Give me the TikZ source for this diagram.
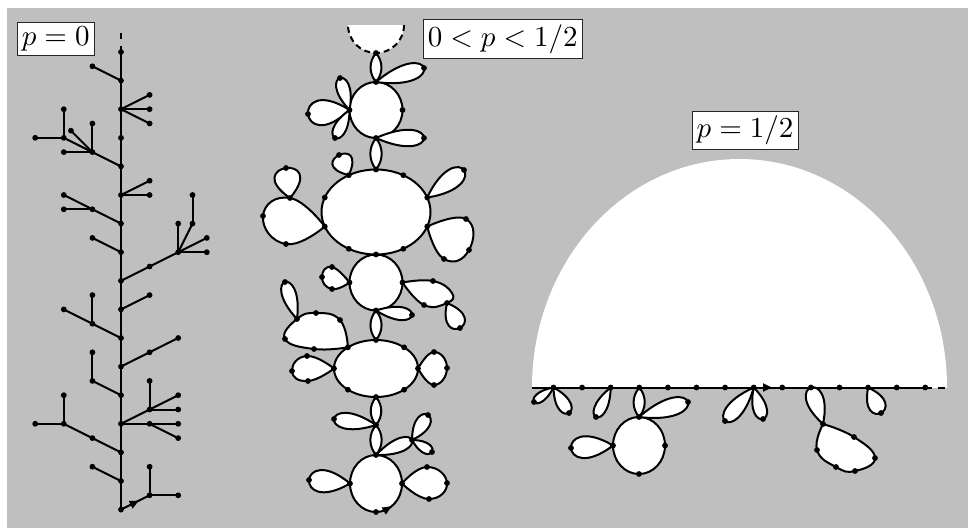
\documentclass[tikz,border=0pt]{standalone}
\usetikzlibrary{calc,decorations.markings,arrows.meta}
\tikzset{
 dot/.style={circle,fill=black,inner sep=0pt,minimum size=5.8pt},
 lp/.style={draw=black,line width=2pt,fill=white,line join=round,line cap=round},
 tr/.style={line width=2pt,line cap=round},
 lbl/.style={draw=black!85,fill=white,line width=0.8pt,inner sep=1.6pt,scale=2.9},
 midarrow/.style={postaction=decorate,decoration={markings,mark=at position #1 with {\arrow{Triangle[length=9pt,width=8pt]}}}},
}
\newcommand\tdrop[3]{\pgfmathsetmacro\mytdf{1/(0.75*cos(#1))}%
 \draw[lp] (#2) .. controls ($(#2)!\mytdf!#1:(#3)$) and ($(#2)!\mytdf!-#1:(#3)$) .. (#2);}
\newcommand\lens[3]{\draw[lp] (#2) to[bend left=#1] (#3) to[bend left=#1] (#2);}
\begin{document}
\begin{tikzpicture}[x=1pt,y=-1pt]
\useasboundingbox (0,0) rectangle (968,528);
\fill[white] (0,0) rectangle (968,528);
\fill[lightgray] (7,8) rectangle (968,528);

% ---------- right: p = 1/2 ----------
\begin{scope}
\clip (500,100) rectangle (968,387.5);
\fill[white] (739.5,387.5) ellipse[x radius=207.5,y radius=228.5];
\end{scope}
\foreach \j in {0,...,13} \coordinate (R\j) at ({553.5+28.6*\j},387.5);
\coordinate (Lend) at (532,387.5);
\coordinate (Rend) at (947,387.5);
\coordinate (w1) at (534,402);
\coordinate (w2) at (569,413);
\coordinate (w3) at (596,417);
\coordinate (C4t) at (639,417);
\coordinate (C4b) at (639,474);
\coordinate (C4l) at (613,445.5);
\coordinate (C4r) at (665,445.5);
\coordinate (w4) at (688,402);
\coordinate (w5) at (571,448);
\coordinate (w6) at (725,421);
\coordinate (w7) at (763,419);
\coordinate (w8) at (881,413);
\coordinate (B1a) at (823,424);
\coordinate (B1b) at (854,437);
\coordinate (B1c) at (875,458);
\coordinate (B1d) at (855,471);
\coordinate (B1e) at (836,467);
\coordinate (B1f) at (817,450);

\draw[lp] (639,445.5) ellipse[x radius=26,y radius=28.5];
\draw[lp] plot[smooth,tension=0.8] coordinates {(B1a) (B1b) (B1c) (B1d) (B1e) (B1f) (B1a)};
\tdrop{26}{R0}{w1}
\tdrop{30}{R0}{w2}
\tdrop{25}{R2}{w3}
\lens{40}{R3}{C4t}
\tdrop{24}{C4t}{w4}
\tdrop{34}{C4l}{w5}
\tdrop{25}{R7}{w6}
\tdrop{28}{R7}{w7}
\tdrop{30}{B1a}{R9}
\tdrop{38}{R11}{w8}
\draw[tr,line cap=butt] (Lend) -- (R13);
\draw[tr,line cap=butt,dash pattern=on 7pt off 6pt] (R13) -- (Rend);
\draw[tr,line cap=butt,midarrow=0.64] (R7) -- (R8);

% ---------- center: 0 < p < 1/2 ----------
\coordinate (hd) at (376,53);
\begin{scope}
\clip (340,25) rectangle (412,62);
\draw[lp,line cap=butt,dash pattern=on 6pt off 4pt] (376,25) circle (28);
\end{scope}
\coordinate (C1t) at (376,82);
\coordinate (C1b) at (376,138);
\coordinate (C1l) at (349.5,110);
\coordinate (C1r) at (402.5,110);
\coordinate (p1) at (424,68);
\coordinate (p2) at (340,78);
\coordinate (p3) at (308,114);
\coordinate (p4) at (335,138);
\coordinate (p5) at (424,138);
\coordinate (E1t) at (376,169.5);
\coordinate (E1a) at (403.3,175.2);
\coordinate (E1b) at (348.8,175.2);
\coordinate (E1r1) at (427.2,197.5);
\coordinate (E1l1) at (324.8,197.5);
\coordinate (E1l2) at (324.8,226.5);
\coordinate (E1r2) at (427.2,226.5);
\coordinate (E1c) at (348.8,248.8);
\coordinate (E1d) at (403.3,248.8);
\coordinate (E1bt) at (376,254.5);
\coordinate (q1) at (339,155);
\coordinate (q2) at (290,198);
\coordinate (q3) at (263,216);
\coordinate (q4) at (286,244);
\coordinate (q5) at (286,168);
\coordinate (q6) at (464,170);
\coordinate (q7) at (466,219);
\coordinate (q8) at (469,250);
\coordinate (q9) at (444,259);
\coordinate (C2b) at (376,310.5);
\coordinate (C2l) at (349.5,282.5);
\coordinate (C2r) at (402.5,282.5);
\coordinate (r1) at (332,267);
\coordinate (r2) at (322,277);
\coordinate (r3) at (332,289);
\coordinate (r4) at (433,281);
\coordinate (rx) at (452,293);
\coordinate (r6) at (447,303);
\coordinate (r7) at (424,305);
\coordinate (r8) at (460,328);
\coordinate (r9) at (412,315);
\coordinate (E2t) at (376,340);
\coordinate (E2a) at (404.1,347.3);
\coordinate (E2b) at (347.9,347.3);
\coordinate (E2r) at (418,368.5);
\coordinate (E2l) at (334,368.5);
\coordinate (E2c) at (347.9,389.7);
\coordinate (E2d) at (404.1,389.7);
\coordinate (E2bt) at (376,397);
\coordinate (s1) at (340,320);
\coordinate (s2) at (316,313);
\coordinate (s3) at (297,319);
\coordinate (s4) at (285,339);
\coordinate (s5) at (314,349);
\coordinate (s6) at (285,282);
\coordinate (u1) at (307,356);
\coordinate (u2) at (292,371);
\coordinate (u3) at (308,381);
\coordinate (u4) at (434,352);
\coordinate (u5) at (447,368);
\coordinate (u6) at (434,385);
\coordinate (v1) at (376,425);
\coordinate (v2) at (334,419);
\coordinate (v3) at (412,440);
\coordinate (v4) at (428,415);
\coordinate (v5) at (432,452);
\coordinate (v6) at (309,480);
\coordinate (v7) at (427,467);
\coordinate (v8) at (447,483);
\coordinate (v9) at (429,499);
\coordinate (C3t) at (376,455);
\coordinate (C3b) at (376,512);
\coordinate (C3l) at (350,483.5);
\coordinate (C3r) at (402,483.5);
\coordinate (as) at (384.9,510.3);
\coordinate (ae) at (391.5,506.4);

\draw[lp] (376,110) ellipse[x radius=26.5,y radius=28];
\draw[lp] (376,212) ellipse[x radius=54.5,y radius=42.5];
\draw[lp] (376,282.5) ellipse[x radius=26.5,y radius=28];
\draw[lp] (376,368.5) ellipse[x radius=42,y radius=28.5];
\draw[lp] (376,483.5) ellipse[x radius=26,y radius=28.5];

\lens{40}{hd}{C1t}
\tdrop{24}{C1t}{p1}
\tdrop{27}{C1l}{p2}
\tdrop{38}{C1l}{p3}
\tdrop{27}{C1l}{p4}
\tdrop{24}{C1b}{p5}
\lens{38}{C1b}{E1t}
\tdrop{50}{E1b}{q1}
\draw[lp] plot[smooth,tension=0.9] coordinates {(E1l2) (q2) (q3) (q4) (E1l2)};
\tdrop{48}{q2}{q5}
\tdrop{28}{E1r1}{q6}
\draw[lp] plot[smooth,tension=0.9] coordinates {(E1r2) (q7) (q8) (q9) (E1r2)};
\draw[lp] plot[smooth,tension=0.9] coordinates {(C2l) (r1) (r2) (r3) (C2l)};
\draw[lp] plot[smooth,tension=0.8] coordinates {(C2r) (r4) (rx) (r6) (r7) (C2r)};
\tdrop{40}{r6}{r8}
\tdrop{25}{C2b}{r9}
\lens{40}{C2b}{E2t}
\draw[lp] plot[smooth,tension=0.8] coordinates {(E2b) (s1) (s2) (s3) (s4) (s5) (E2b)};
\tdrop{25}{s3}{s6}
\draw[lp] plot[smooth,tension=0.9] coordinates {(E2l) (u1) (u2) (u3) (E2l)};
\draw[lp] plot[smooth,tension=0.9] coordinates {(E2r) (u4) (u5) (u6) (E2r)};
\lens{40}{E2bt}{v1}
\tdrop{26}{v1}{v2}
\lens{40}{v1}{C3t}
\tdrop{24}{C3t}{v3}
\tdrop{32}{v3}{v4}
\tdrop{30}{v3}{v5}
\tdrop{35}{C3l}{v6}
\draw[lp] plot[smooth,tension=0.9] coordinates {(C3r) (v7) (v8) (v9) (C3r)};
\draw[line width=0.1pt,-{Triangle[length=9pt,width=8pt]}] (as) -- (ae);

% ---------- left: p = 0 ----------
\begin{scope}[shift={(121,52)},x=28.6pt,y=-28.6pt]
\foreach \k in {0,...,16} \coordinate (T\k) at (0,\k);
\coordinate (Ttop) at (0,-0.7);
\foreach \n/\i/\k in {a1/-1/0.5, b1/1/1.5, b2/1/2, b3/1/2.5, c1/-1/3.5, c2/-2/3, c3/-2/3.5, c4/-1/2.5, c5/-1.75/2.75, c6/-3/3, c7/-2/2, d1/1/4.5, d2/1/5, e1/-1/5.5, e2/-2/5, e3/-2/5.5, f1/-1/6.5, g1/1/7.5, g2/2/7, g3/2/6, g4/2.5/6, g5/2.5/5, g6/3/6.5, g7/3/7, h1/1/8.5, i1/-1/9.5, i2/-2/9, i3/-1/8.5, j1/1/10.5, j2/2/10, k1/-1/11.5, k2/-1/10.5, l1/1/12.5, l2/2/12, l3/1/11.5, l4/2/12.5, l5/1/13, l6/2/13, l7/2/13.5, m1/-1/13.5, m2/-2/13, m3/-3/13, m4/-2/12, n1/-1/14.5, o1/1/15.5, o2/1/14.5, o3/2/15.5}
  \coordinate (\n) at (\i,\k);
\end{scope}
\draw[tr,line cap=butt] (T0) -- (T16);
\draw[tr,line cap=butt,dash pattern=on 6pt off 7pt] (T0) -- (Ttop);
\foreach \a/\b in {T1/a1, T2/b1, T2/b2, T2/b3, T4/c1, c1/c2, c1/c3, c1/c4, c1/c5, c2/c6, c2/c7, T5/d1, T5/d2, T6/e1, e1/e2, e1/e3, T7/f1, T8/g1, g1/g2, g2/g3, g2/g4, g4/g5, g2/g6, g2/g7, T9/h1, T10/i1, i1/i2, i1/i3, T11/j1, j1/j2, T12/k1, k1/k2, T13/l1, l1/l2, l1/l3, l1/l4, T13/l5, l5/l6, l5/l7, T14/m1, m1/m2, m2/m3, m2/m4, T15/n1, o1/o2, o1/o3}
  \draw[tr] (\a) -- (\b);
\draw[tr,midarrow=0.62] (T16) -- (o1);

% ---------- dots ----------
\foreach \n in {T0,T1,T2,T3,T4,T5,T6,T7,T8,T9,T10,T11,T12,T13,T14,T15,T16,a1,b1,b2,b3,c1,c2,c3,c4,c5,c6,c7,d1,d2,e1,e2,e3,f1,g1,g2,g3,g4,g5,g6,g7,h1,i1,i2,i3,j1,j2,k1,k2,l1,l2,l3,l4,l5,l6,l7,m1,m2,m3,m4,n1,o1,o2,o3,
 hd,C1t,C1b,C1l,C1r,p1,p2,p3,p4,p5,E1t,E1a,E1b,E1r1,E1l1,E1l2,E1r2,E1c,E1d,E1bt,q1,q2,q3,q4,q5,q6,q7,q8,q9,C2b,C2l,C2r,r1,r2,r3,r4,r6,r7,r8,r9,E2t,E2a,E2b,E2r,E2l,E2c,E2d,E2bt,s1,s2,s3,s4,s5,s6,u1,u2,u3,u4,u5,u6,v1,v2,v3,v4,v5,v6,v7,v8,v9,C3t,C3b,C3l,C3r,
 R0,R1,R2,R3,R4,R5,R6,R7,R8,R9,R10,R11,R12,R13,w1,w2,w3,w4,w5,w6,w7,w8,C4t,C4b,C4l,C4r,B1a,B1b,B1c,B1d,B1e,B1f}
  \node[dot] at (\n) {};

% ---------- labels ----------
\node[lbl,anchor=west] (lab0) at (16,39) {$p=0$};
\node[lbl,anchor=west] (lab1) at (422,39) {$0<p<1/2$};
\node[lbl] (lab2) at (745,130.5) {$p=1/2$};
\end{tikzpicture}
\end{document}
